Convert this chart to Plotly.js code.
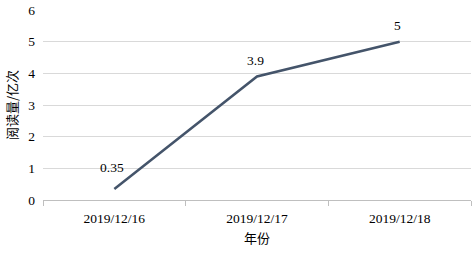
<!DOCTYPE html>
<html>
<head>
<meta charset="utf-8">
<script src="https://cdn.plot.ly/plotly-3.0.1.min.js"></script>
<style>html,body{margin:0;padding:0;background:#fff;}#chart{width:473px;height:254px;}</style>
</head>
<body>
<div id="chart"></div>
<script>
var categories = ["2019/12/16", "2019/12/17", "2019/12/18"];
var values = [0.35, 3.9, 5];
var valueLabels = ["0.35", "3.9", "5"];
var yTicks = [0, 1, 2, 3, 4, 5, 6];

var serif = "Liberation Serif";
var cjk = "Noto Sans CJK SC";
var trace = {
  x: categories,
  y: values,
  type: "scatter",
  mode: "lines",
  line: {color: "#44546a", width: 2.5},
  hoverinfo: "none"
};
var annotations = categories.map(function (c, i) {
  return {
    x: c, y: values[i], xref: "x", yref: "y",
    text: valueLabels[i], showarrow: false,
    yshift: i === 0 ? 21 : 16, xshift: -2,
    font: {family: serif, size: 13.5, color: "#000"}
  };
});
var layout = {
  width: 473, height: 254,
  margin: {l: 43, r: 2, t: 10, b: 54},
  paper_bgcolor: "#fff", plot_bgcolor: "#fff",
  showlegend: false,
  font: {family: serif, size: 13.5, color: "#000"},
  annotations: annotations,
  xaxis: {
    type: "category",
    range: [-0.5, 2.5],
    tickson: "boundaries",
    ticks: "outside", ticklen: 5, tickcolor: "#bfbfbf",
    ticklabelstandoff: 6,
    showline: true, linecolor: "#bfbfbf", linewidth: 1,
    showgrid: false, zeroline: false,
    tickfont: {family: serif, size: 13.5, color: "#000"},
    title: {text: "年份", font: {family: cjk, size: 13, color: "#000"}, standoff: 8}
  },
  yaxis: {
    range: [0, 6],
    tickvals: yTicks,
    showgrid: true, gridcolor: "#d9d9d9", gridwidth: 1,
    zeroline: false, showline: false,
    ticks: "", ticklen: 0,
    ticklabelstandoff: 7,
    tickfont: {family: serif, size: 13.5, color: "#000"},
    title: {text: "阅读量/亿次", font: {family: cjk, size: 13, color: "#000"}, standoff: 7}
  }
};
Plotly.newPlot("chart", [trace], layout, {displayModeBar: false, staticPlot: true});
</script>
</body>
</html>
